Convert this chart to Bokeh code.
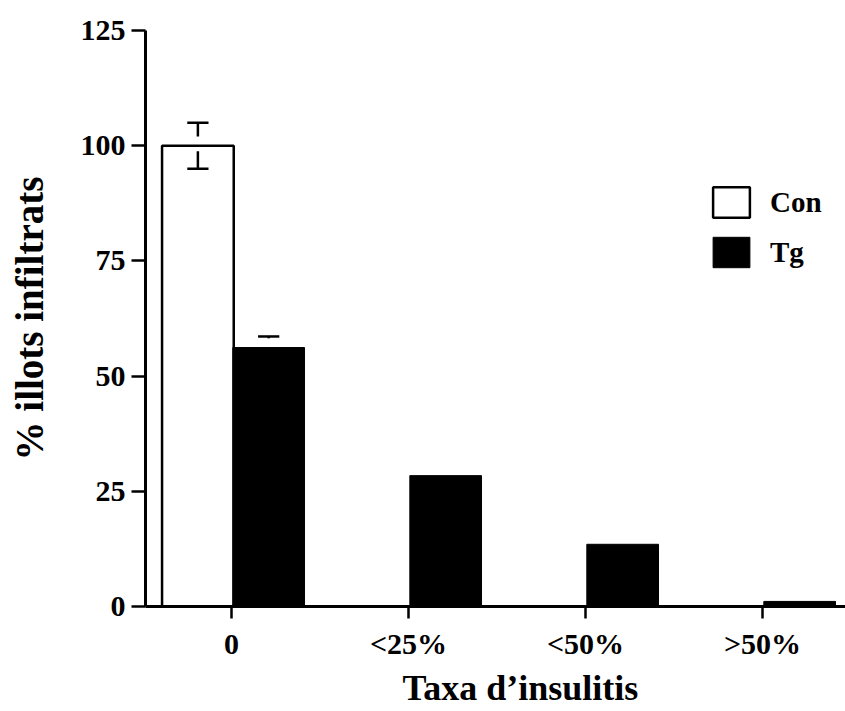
from bokeh.plotting import figure
from bokeh.models import Range1d, FixedTicker, Legend, LegendItem, Title
from bokeh.embed import file_html
from bokeh.resources import INLINE

categories = ["0", "<25%", "<50%", ">50%"]
con_values = [100, 0, 0, 0]
con_err = [5, 0, 0, 0]
tg_values = [56.2, 28.4, 13.5, 1.1]
tg_err = [2.4, 0, 0, 0]
y_ticks = [0, 25, 50, 75, 100, 125]

FONT = "Liberation Serif"
BAR_W = 0.405
GAP = 2.0
CAP = 0.06

p = figure(width=845, height=711, output_backend="svg", toolbar_location=None,
           x_range=Range1d(-0.486, 3.469), y_range=Range1d(0, 125),
           min_border_left=145, min_border_right=0, min_border_top=30, min_border_bottom=105)
p.outline_line_color = None
p.xgrid.visible = False
p.ygrid.visible = False
p.background_fill_color = "white"

xs = list(range(len(categories)))
con_x = [x - 0.19 for x in xs]
tg_x = [x + 0.21 for x in xs]

r_con = p.vbar(x=con_x[:1], top=con_values[:1], width=BAR_W, fill_color="white",
               line_color="black", line_width=2.5)
r_tg = p.vbar(x=tg_x, top=tg_values, width=BAR_W, fill_color="black",
              line_color="black", line_width=1)

# error bars (drawn with a small gap from the bar top)
x0s, x1s, y0s, y1s = [], [], [], []
for xc, v, e in list(zip(con_x, con_values, con_err)) + list(zip(tg_x, tg_values, tg_err)):
    if e <= 0:
        continue
    x0s += [xc, xc - CAP]; x1s += [xc, xc + CAP]
    y0s += [v + min(GAP, e * 0.85), v + e]; y1s += [v + e, v + e]
    x0s += [xc, xc - CAP]; x1s += [xc, xc + CAP]
    y0s += [v - min(GAP * 0.6, e * 0.85), v - e]; y1s += [v - e, v - e]
p.segment(x0=x0s, y0=y0s, x1=x1s, y1=y1s, line_color="black", line_width=2.5)

for ax in (p.xaxis[0], p.yaxis[0]):
    ax.axis_line_width = 3
    ax.major_tick_line_width = 2.5
    ax.minor_tick_line_color = None
    ax.major_tick_in = 0
    ax.major_tick_out = 14
    ax.major_label_text_font = FONT
    ax.major_label_text_font_style = "bold"
    ax.major_label_text_color = "black"
    ax.axis_label_text_font = FONT
    ax.axis_label_text_font_style = "bold"
    ax.axis_label_text_color = "black"

p.yaxis.ticker = FixedTicker(ticks=y_ticks)
p.yaxis.major_label_text_font_size = "30px"
p.yaxis.major_label_standoff = 6
p.yaxis.axis_label = "% illots infiltrats"
p.yaxis.axis_label_text_font_size = "39px"
p.yaxis.axis_label_standoff = 27

p.xaxis.ticker = FixedTicker(ticks=xs)
p.xaxis.major_label_overrides = {i: c for i, c in enumerate(categories)}
p.xaxis.major_label_text_font_size = "30px"
p.xaxis.major_label_standoff = 8
p.xaxis.major_tick_out = 12

xtitle = Title(text="Taxa d\u2019insulitis", align="left", offset=257, text_font=FONT,
               text_font_style="bold", text_font_size="36px", text_color="black",
               standoff=7)
p.add_layout(xtitle, "below")

legend = Legend(items=[LegendItem(label="Con", renderers=[r_con]),
                       LegendItem(label="Tg", renderers=[r_tg])],
                location=(563, 335), glyph_width=46, glyph_height=38, label_height=38,
                spacing=12, label_standoff=16, padding=0, margin=0,
                border_line_color=None, background_fill_alpha=0,
                label_text_font=FONT, label_text_font_style="bold",
                label_text_font_size="29px", label_text_color="black")
p.add_layout(legend)

open("out.html", "w").write(file_html(p, INLINE))
